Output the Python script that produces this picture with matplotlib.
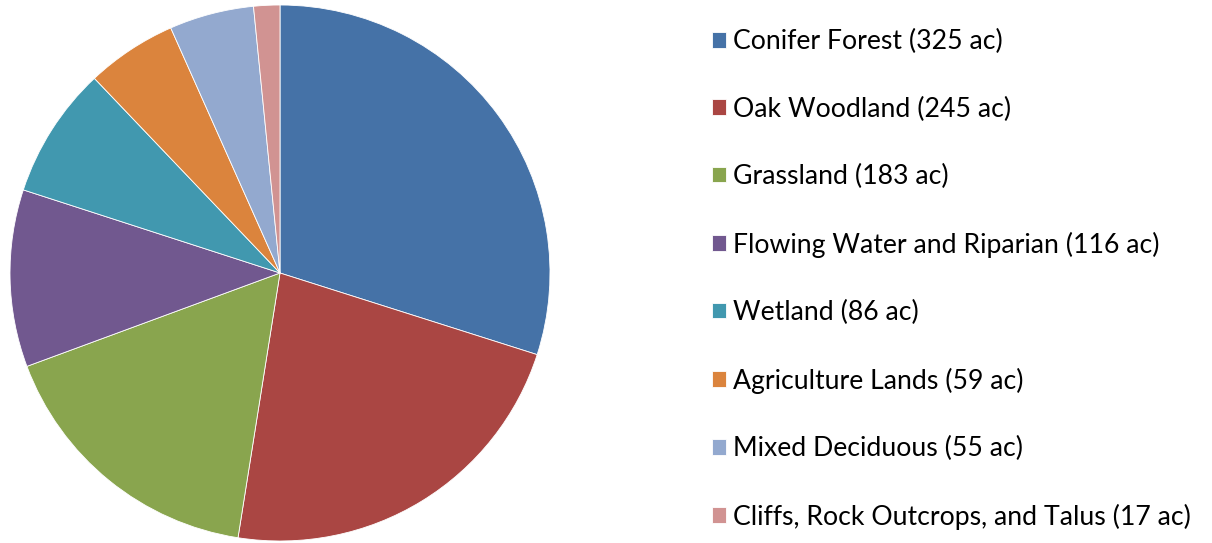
import matplotlib
matplotlib.use("Agg")
import matplotlib.pyplot as plt

categories = [
    "Conifer Forest",
    "Oak Woodland",
    "Grassland",
    "Flowing Water and Riparian",
    "Wetland",
    "Agriculture Lands",
    "Mixed Deciduous",
    "Cliffs, Rock Outcrops, and Talus",
]
acres = [325, 245, 183, 116, 86, 59, 55, 17]
colors = ["#4572A7", "#AA4643", "#89A54E", "#71588F",
          "#4198AF", "#DB843D", "#93A9CF", "#D19392"]

plt.rcParams["font.family"] = ["Lato", "DejaVu Sans"]

W, H = 1212, 543
fig = plt.figure(figsize=(W / 100, H / 100), dpi=100)
ax = fig.add_axes([10 / W, 2 / H, 540 / W, 536 / H])

wedges, _ = ax.pie(
    acres,
    colors=colors,
    startangle=90,
    counterclock=False,
    radius=1.0,
    wedgeprops={"edgecolor": "white", "linewidth": 0.6},
)
ax.set_xlim(-1, 1)
ax.set_ylim(-1, 1)
ax.set_aspect("auto")

labels = [f"{c} ({a} ac)" for c, a in zip(categories, acres)]
fig.legend(
    wedges, labels,
    loc="upper left",
    bbox_to_anchor=(712 / W, 1 - 29 / H),
    frameon=False,
    fontsize=19.2,
    handlelength=0.53,
    handleheight=0.53,
    handletextpad=0.27,
    labelspacing=1.59,
    borderpad=0,
    borderaxespad=0,
)

fig.savefig("out.png", dpi=100)
